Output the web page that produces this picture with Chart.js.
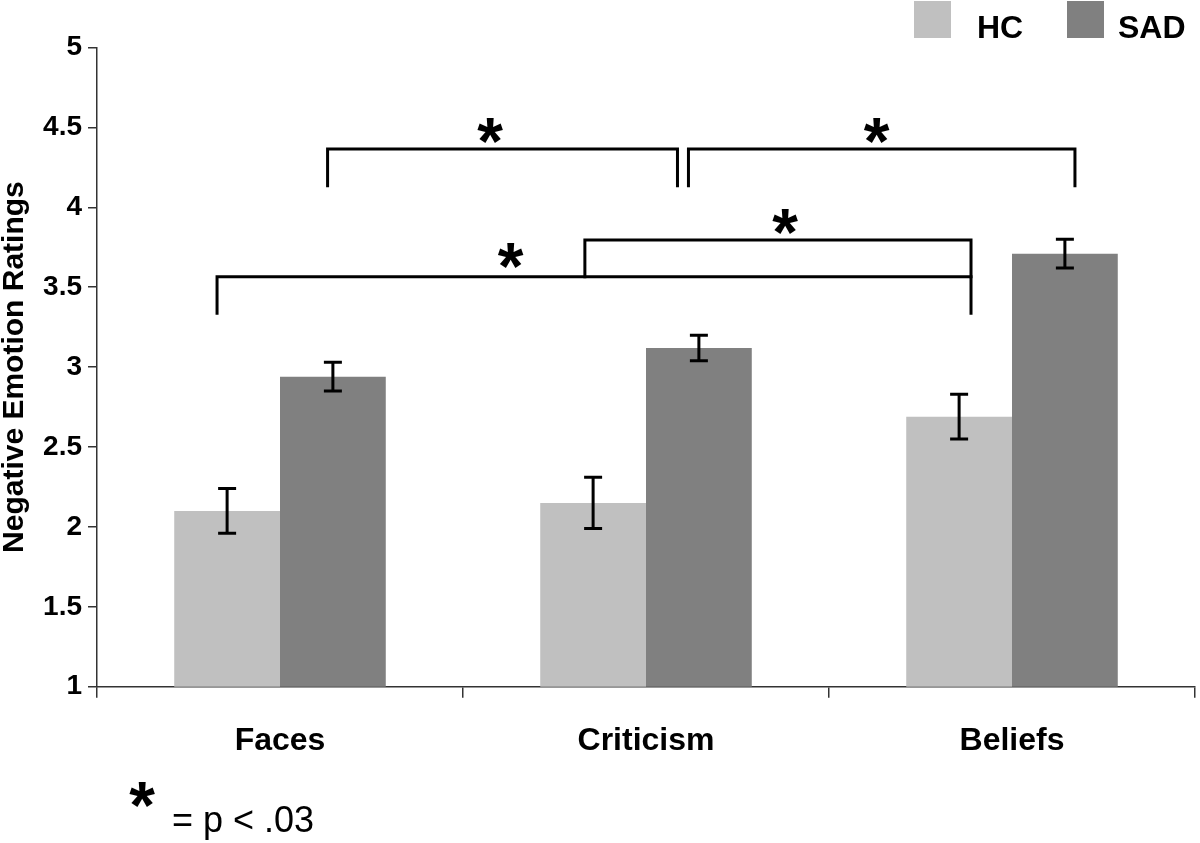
<!DOCTYPE html>
<html>
<head>
<meta charset="utf-8">
<script src="https://cdn.jsdelivr.net/npm/chart.js@4"></script>
<style>
  html, body { margin: 0; padding: 0; background: #fff; }
  #wrap { width: 1200px; height: 843px; position: relative; }
</style>
</head>
<body>
<div id="wrap"><canvas id="emotionChart"></canvas></div>
<script>
// Données
const categories = ['Faces', 'Criticism', 'Beliefs'];
const hcValues = [2.10, 2.15, 2.69];
const sadValues = [2.94, 3.12, 3.71];
const hcErrors = [0.14, 0.16, 0.14];
const sadErrors = [0.09, 0.08, 0.09];
const yTickValues = [1, 1.5, 2, 2.5, 3, 3.5, 4, 4.5, 5];

// Crochets de significativité (x en unités de catégorie, y en unités de note)
const brackets = [
    { path: [[0.13, 4.135], [0.13, 4.365], [1.086, 4.365], [1.086, 4.135]], star: [0.574, 4.48] },
    { path: [[1.116, 4.135], [1.116, 4.365], [2.172, 4.365], [2.172, 4.135]], star: [1.63, 4.48] },
    { path: [[-0.172, 3.337], [-0.172, 3.566], [1.888, 3.566], [1.888, 3.337]], star: [0.63, 3.70] },
    { path: [[0.833, 3.566], [0.833, 3.795], [1.888, 3.795], [1.888, 3.566]], star: [1.38, 3.91] }
];

const FONT = '"Liberation Sans", Arial, sans-serif';
Chart.defaults.font.family = FONT;
Chart.defaults.color = '#000';

function drawStar(ctx, cx, cy, size) {
    ctx.save();
    ctx.font = 'bold ' + size + 'px ' + FONT;
    ctx.textAlign = 'center';
    ctx.textBaseline = 'alphabetic';
    const m = ctx.measureText('*');
    const off = (m.actualBoundingBoxAscent - m.actualBoundingBoxDescent) / 2;
    ctx.fillStyle = '#000';
    ctx.fillText('*', cx, cy + off);
    ctx.restore();
}

// Barres d'erreur
const errorBars = {
    id: 'errorBars',
    afterDatasetsDraw(chart) {
        const ctx = chart.ctx;
        const y = chart.scales.y;
        ctx.save();
        ctx.strokeStyle = '#000';
        ctx.lineWidth = 3;
        chart.data.datasets.forEach((ds, di) => {
            const meta = chart.getDatasetMeta(di);
            meta.data.forEach((bar, i) => {
                const top = y.getPixelForValue(ds.data[i] + ds.errors[i]);
                const bot = y.getPixelForValue(ds.data[i] - ds.errors[i]);
                ctx.beginPath();
                ctx.moveTo(bar.x, top); ctx.lineTo(bar.x, bot);
                ctx.moveTo(bar.x - 9, top); ctx.lineTo(bar.x + 9, top);
                ctx.moveTo(bar.x - 9, bot); ctx.lineTo(bar.x + 9, bot);
                ctx.stroke();
            });
        });
        ctx.restore();
    }
};

// Crochets, légende et note
const annotations = {
    id: 'annotations',
    afterDraw(chart) {
        const ctx = chart.ctx;
        const xs = chart.scales.x, ys = chart.scales.y;
        ctx.save();
        ctx.strokeStyle = '#000';
        ctx.lineWidth = 3;
        ctx.lineCap = 'square';
        brackets.forEach(b => {
            ctx.beginPath();
            b.path.forEach(([xv, yv], k) => {
                const px = xs.getPixelForValue(xv), py = ys.getPixelForValue(yv);
                if (k === 0) ctx.moveTo(px, py); else ctx.lineTo(px, py);
            });
            ctx.stroke();
            drawStar(ctx, xs.getPixelForValue(b.star[0]), ys.getPixelForValue(b.star[1]), 66);
        });

        // légende
        const legendItems = [[914, 977], [1067, 1118]];
        chart.data.datasets.forEach((ds, i) => {
            const [bx, tx] = legendItems[i];
            ctx.fillStyle = ds.backgroundColor;
            ctx.fillRect(bx, 1, 37, 37);
            ctx.fillStyle = '#000';
            ctx.font = 'bold 32px ' + FONT;
            ctx.textAlign = 'left';
            ctx.textBaseline = 'alphabetic';
            ctx.fillText(ds.label, tx, 38);
        });

        // note en bas
        drawStar(ctx, 142, 794, 66);
        ctx.fillStyle = '#000';
        ctx.font = '36px ' + FONT;
        ctx.textAlign = 'left';
        ctx.fillText('= p < .03', 172, 832);
        ctx.restore();
    }
};

const ctx = document.getElementById('emotionChart').getContext('2d');
new Chart(ctx, {
    type: 'bar',
    data: {
        labels: categories,
        datasets: [
            { label: 'HC', data: hcValues, errors: hcErrors, backgroundColor: '#c0c0c0' },
            { label: 'SAD', data: sadValues, errors: sadErrors, backgroundColor: '#808080' }
        ]
    },
    options: {
        responsive: true,
        maintainAspectRatio: false,
        animation: false,
        categoryPercentage: 0.578,
        barPercentage: 1,
        layout: { padding: { top: 47.5, right: 5, left: 0, bottom: 0 } },
        plugins: {
            legend: { display: false },
            tooltip: { enabled: false }
        },
        scales: {
            x: {
                grid: { drawOnChartArea: false, drawTicks: true, tickLength: 11, color: '#333', lineWidth: 1.5 },
                border: { color: '#333', width: 1.5 },
                ticks: { font: { size: 32, weight: 'bold' }, padding: 24, color: '#000' },
                afterFit(scale) { scale.height = 156.3; }
            },
            y: {
                min: 1,
                max: 5,
                afterBuildTicks(scale) { scale.ticks = yTickValues.map(v => ({ value: v })); },
                grid: { drawOnChartArea: false, drawTicks: true, tickLength: 9, color: '#333', lineWidth: 1.5 },
                border: { color: '#333', width: 1.5 },
                ticks: {
                    font: { size: 28, weight: 'bold' },
                    padding: 6,
                    color: '#000',
                    callback: v => String(v)
                },
                title: {
                    display: true,
                    text: 'Negative Emotion Ratings',
                    font: { size: 30, weight: 'bold', lineHeight: 1 },
                    padding: 0,
                    color: '#000'
                },
                afterFit(scale) { scale.width = 97; }
            }
        }
    },
    plugins: [errorBars, annotations]
});
</script>
</body>
</html>
